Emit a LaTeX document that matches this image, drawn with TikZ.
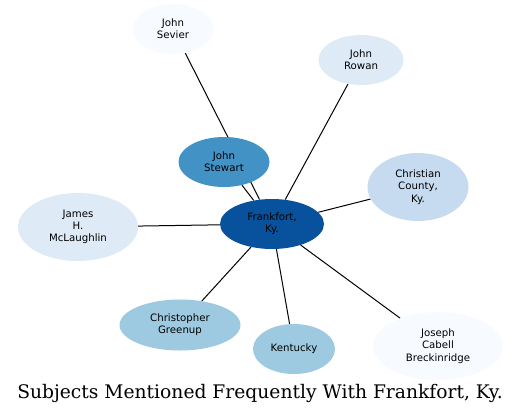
\documentclass[tikz,border=0pt]{standalone}
\usepackage{fontspec}
\newfontfamily\nodefont{DejaVu Sans}
\newfontfamily\titlefont{DejaVu Serif}
\usetikzlibrary{shapes.geometric,backgrounds}
\definecolor{c1}{HTML}{08519C}
\definecolor{c2}{HTML}{4292C6}
\definecolor{c3}{HTML}{9ECAE1}
\definecolor{c4}{HTML}{C6DBEF}
\definecolor{c5}{HTML}{DEEBF7}
\definecolor{c6}{HTML}{F7FBFF}
\begin{document}
\begin{tikzpicture}[x=1pt,y=-1pt,
  ent/.style={ellipse,draw=none,inner sep=0pt,align=center,
    font=\nodefont\fontsize{10.2}{12.2}\selectfont},
  link/.style={draw=black,line width=1pt}]
\useasboundingbox (0,0) rectangle (521,415);
\node[ent,fill=c1,minimum width=104,minimum height=50] (frank) at (272,224) {Frankfort,\\Ky.};
\node[ent,fill=c2,minimum width=91,minimum height=50] (stewart) at (224,162) {John\\Stewart};
\node[ent,fill=c6,minimum width=81,minimum height=50] (sevier) at (173,29) {John\\Sevier};
\node[ent,fill=c5,minimum width=85,minimum height=50] (rowan) at (361,60) {John\\Rowan};
\node[ent,fill=c4,minimum width=101,minimum height=68] (christian) at (418,187) {Christian\\County,\\Ky.};
\node[ent,fill=c5,minimum width=120,minimum height=68] (mclaughlin) at (78,227) {James\\H.\\McLaughlin};
\node[ent,fill=c3,minimum width=121,minimum height=51] (greenup) at (180,325) {Christopher\\Greenup};
\node[ent,fill=c3,minimum width=82,minimum height=50] (kentucky) at (294,349) {Kentucky};
\node[ent,fill=c6,minimum width=130,minimum height=68] (breck) at (438,346) {Joseph\\Cabell\\Breckinridge};
\begin{pgfonlayer}{background}
\draw[link] (sevier) -- (frank);
\draw[link] (stewart) -- (frank);
\draw[link] (rowan) -- (frank);
\draw[link] (christian) -- (frank);
\draw[link] (mclaughlin) -- (frank);
\draw[link] (greenup) -- (frank);
\draw[link] (kentucky) -- (frank);
\draw[link] (breck) -- (frank);
\end{pgfonlayer}
\node[font=\titlefont\fontsize{18.7}{22}\selectfont,inner sep=0pt] (title) at (260,393) {Subjects Mentioned Frequently With Frankfort, Ky.};
\end{tikzpicture}
\end{document}
